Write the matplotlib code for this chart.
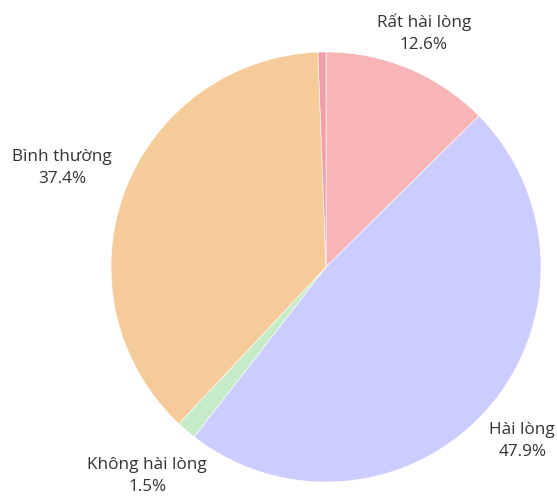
import numpy as np
import matplotlib.pyplot as plt

# survey satisfaction shares (%)
labels = ['Rất hài lòng', 'Hài lòng', 'Không hài lòng', 'Bình thường', 'Rất không hài lòng']
shares = [12.6, 47.9, 1.5, 37.4, 0.6]
colors = ['#F7B5B8', '#CBCCFF', '#C5EBC8', '#F5CB99', '#F09EAA']
label_dist = [1.18, 1.22, 1.28, 1.31, 1.2]

plt.rcParams['font.family'] = ['Open Sans', 'DejaVu Sans']

fig = plt.figure(figsize=(5.57, 4.97), dpi=100)
W, H = 557, 497
cx, cy, r = 326, 267, 215
ax = fig.add_axes([(cx - r) / W, (H - cy - r) / H, 2 * r / W, 2 * r / H])

wedges, _ = ax.pie(shares, colors=colors, startangle=90, counterclock=False,
                   radius=1, wedgeprops=dict(edgecolor='white', linewidth=0.4))
ax.set_xlim(-1, 1)
ax.set_ylim(-1, 1)
ax.set_aspect('auto')
ax.axis('off')

total = sum(shares)
for w, lab, val, d in zip(wedges, labels, shares, label_dist):
    if val / total < 0.01:
        continue  # too thin to label
    mid = np.deg2rad((w.theta1 + w.theta2) / 2)
    ax.text(d * np.cos(mid), d * np.sin(mid), f'{lab}\n{val}%',
            ha='center', va='center', fontsize=12.3, color='#333333',
            linespacing=1.5)

fig.savefig('out.png', dpi=100)
